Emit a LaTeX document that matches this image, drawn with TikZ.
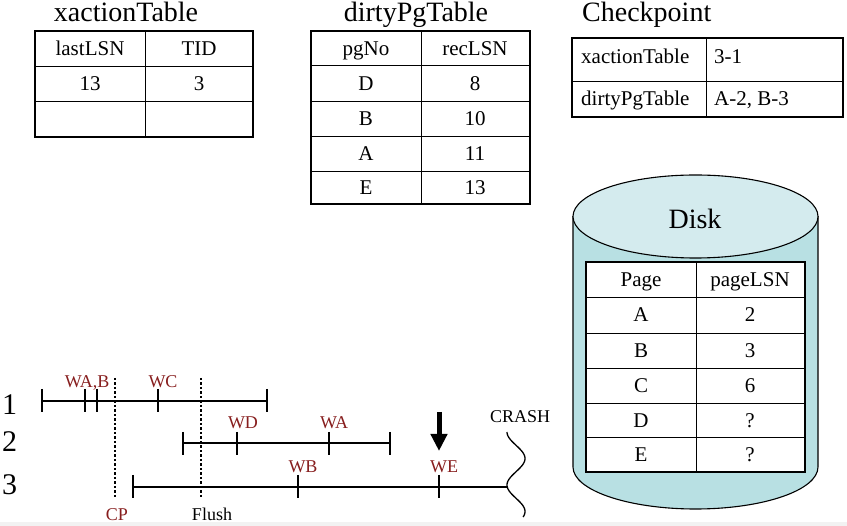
\documentclass[tikz,border=0pt]{standalone}
\usepackage{fontspec}
\setmainfont{Liberation Serif}
\usetikzlibrary{arrows.meta}

\definecolor{evtred}{RGB}{135,30,30}
\definecolor{disktop}{RGB}{212,235,238}
\definecolor{diskside}{RGB}{184,224,227}
\definecolor{footband}{RGB}{242,242,242}

\tikzset{
  frame/.style={line width=2.4pt},
  rule/.style={line width=0.9pt},
  cell/.style={font=\fontsize{21}{21}\selectfont, inner sep=0pt, anchor=base},
  lcell/.style={cell, anchor=base west},
  heading/.style={font=\fontsize{28}{28}\selectfont, inner sep=0pt, anchor=base},
  evt/.style={font=\fontsize{18}{18}\selectfont, text=evtred, inner sep=0pt, anchor=base},
  plain/.style={font=\fontsize{18}{18}\selectfont, inner sep=0pt, anchor=base},
  txnum/.style={font=\fontsize{30}{30}\selectfont, inner sep=0pt, anchor=base west},
  tline/.style={line width=1.4pt},
  marker/.style={dash pattern=on 2.5pt off 2pt, line width=1.3pt},
}

\begin{document}
\begin{tikzpicture}[x=1pt,y=-1pt]
\useasboundingbox (0,0) rectangle (847,526);
\fill[footband] (0,522) rectangle (847,526);

% ---------- xactionTable ----------
\node[heading] (xtTitle) at (126,22) {xactionTable};
\draw[rule] (145,31) -- (145,137)
            (35,66) -- (253,66) (35,101) -- (253,101);
\draw[frame] (35,31) rectangle (253,137);
\node[cell] (xtH1) at (90,56) {lastLSN};
\node[cell] (xtH2) at (199,56) {TID};
\node[cell] (xtA1) at (90,91) {13};
\node[cell] (xtA2) at (199,91) {3};

% ---------- dirtyPgTable ----------
\node[heading] (dpTitle) at (416,22) {dirtyPgTable};
\draw[rule] (421,31) -- (421,204);
\foreach \yy in {65,101,136,171} \draw[rule] (311,\yy) -- (530,\yy);
\draw[frame] (311,31) rectangle (530,204);
\node[cell] (dpH1) at (366,56) {pgNo};
\node[cell] (dpH2) at (475,56) {recLSN};
\foreach \pg/\lsn/\yy [count=\i] in {D/8/91, B/10/126, A/11/161, E/13/195} {
  \node[cell] (dpP\i) at (366,\yy) {\pg};
  \node[cell] (dpL\i) at (475,\yy) {\lsn};
}

% ---------- Checkpoint ----------
\node[heading, anchor=base west] (cpTitle) at (582,22) {Checkpoint};
\draw[rule] (706,38) -- (706,117) (572,81) -- (843,81);
\draw[frame] (572,38) rectangle (843,117);
\node[lcell] (cpK1) at (581,64) {xactionTable};
\node[lcell] (cpV1) at (714,64) {3-1};
\node[lcell] (cpK2) at (581,106) {dirtyPgTable};
\node[lcell] (cpV2) at (714,106) {A-2, B-3};

% ---------- Disk ----------
\draw[line width=1.1pt, fill=diskside]
  (573,216.5) -- (573,467) arc[start angle=180, end angle=0, x radius=122.5, y radius=42]
  -- (818,216.5) -- cycle;
\draw[line width=1.1pt, fill=disktop] (695.5,216.5) ellipse[x radius=122.5, y radius=41.5];
\node[heading] (diskLabel) at (695,229) {Disk};
\fill[white] (586,262) rectangle (805,472);
\draw[rule] (696,262) -- (696,472);
\foreach \yy in {297,333,368,403,437} \draw[rule] (586,\yy) -- (805,\yy);
\draw[frame] (586,262) rectangle (805,472);
\node[cell] (dkH1) at (641,287) {Page};
\node[cell] (dkH2) at (750,287) {pageLSN};
\foreach \pg/\lsn/\yy [count=\i] in {A/2/322, B/3/358, C/6/393, D/?/428, E/?/462} {
  \node[cell] (dkP\i) at (641,\yy) {\pg};
  \node[cell] (dkL\i) at (750,\yy) {\lsn};
}

% ---------- transaction timelines ----------
\node[txnum] (t1) at (2,415) {1};
\node[txnum] (t2) at (2,452) {2};
\node[txnum] (t3) at (2,495) {3};

% checkpoint and flush markers
\draw[marker] (115,378) -- (115,498);
\draw[marker] (201,378) -- (201,498);
\node[evt] (cpMark) at (117,521) {CP};
\node[plain] (flushMark) at (212,521) {Flush};

% transaction 1
\draw[tline] (42,401) -- (267,401);
\foreach \xx in {42,85,97,158,267} \draw[tline] (\xx,389) -- (\xx,412);
\node[evt] (wab) at (87,388) {WA,B};
\node[evt] (wc) at (163,388) {WC};

% transaction 2
\draw[tline] (183,443) -- (390,443);
\foreach \xx in {183,237,329,390} \draw[tline] (\xx,432) -- (\xx,455);
\node[evt] (wd) at (243,429) {WD};
\node[evt] (wa) at (334,429) {WA};

% transaction 3, cut off by the crash
\coordinate (crashpt) at (507.3,487);
\draw[tline] (133,487) -- (crashpt);
\foreach \xx in {133,298,439} \draw[tline] (\xx,475) -- (\xx,498);
\node[evt] (wb) at (303,473) {WB};
\node[evt] (we) at (444,473) {WE};

% crash: a wavy vertical cut
\draw[line width=1.3pt] plot[domain=0:85, samples=80, variable=\t]
  ({516-9*cos(6.7925*\t)}, {432+\t});
\node[plain, anchor=base west] (crash) at (490,423) {CRASH};

% pointer to the last write
\coordinate (arrTop) at (439,412);
\coordinate (arrTip) at (439,451);
\draw[line width=5pt, -{Triangle[width=16pt, length=17pt]}] (arrTop) -- (arrTip);
\end{tikzpicture}
\end{document}
